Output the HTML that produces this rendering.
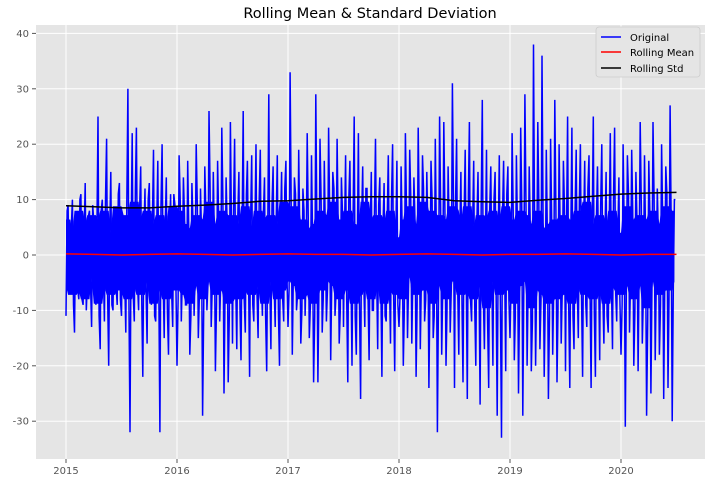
<!DOCTYPE html>
<html><head><meta charset="utf-8"><style>
body{margin:0;background:#fff;font-family:"Liberation Sans","DejaVu Sans",sans-serif}
svg text{font-family:"DejaVu Sans","Liberation Sans",sans-serif}
</style></head><body>
<svg id="c" width="712" height="483" xmlns="http://www.w3.org/2000/svg">
<rect x="36" y="25" width="669" height="434" fill="#e5e5e5"/>
<g id="grid"></g><g id="series"></g><g id="axes"></g>
<text x="370" y="18" text-anchor="middle" font-size="14.5" fill="#000">Rolling Mean &amp; Standard Deviation</text>
<g>
<rect x="596" y="27" width="104" height="50" rx="3" fill="#e5e5e5" stroke="#ccc" stroke-width="0.8"/>
<line x1="601" y1="37" x2="621" y2="37" stroke="#0000ff" stroke-width="1.5"/>
<text x="630" y="41" font-size="10" fill="#000">Original</text>
<line x1="601" y1="52" x2="621" y2="52" stroke="#ff0000" stroke-width="1.5"/>
<text x="630" y="56" font-size="10" fill="#000">Rolling Mean</text>
<line x1="601" y1="68" x2="621" y2="68" stroke="#000" stroke-width="1.5"/>
<text x="630" y="72" font-size="10" fill="#000">Rolling Std</text>
</g>
</svg>
<script>
const xTicks=[2015,2016,2017,2018,2019,2020];
const yTicks=[-30,-20,-10,0,10,20,30,40];
const original=[
-11,9,-6,10,-14,6,-8,11,-9,13,-5,8,-13,6,-9,25,-17,10,-12,21,-20,15,-10,8,-9,13,-11,7,-14,30,-32,22,-12,23,-10,16,-22,12,-16,13,-9,19,-12,17,-32,20,-15,14,-18,11,-13,9,
-20,18,-12,14,-9,17,-18,13,-11,20,-15,12,-29,16,-10,26,-13,15,-21,17,-12,23,-25,14,-23,24,-16,21,-17,15,-19,26,-14,17,-22,18,-12,20,-15,19,-11,14,-21,29,-17,16,-13,18,-20,15,-12,17,
-13,33,-18,14,-10,19,-16,12,-11,22,-15,18,-23,29,-23,21,-14,17,-12,23,-19,15,-11,21,-16,14,-13,18,-23,17,-20,25,-18,22,-26,16,-13,12,-19,15,-10,21,-17,14,-22,13,-12,18,-16,20,-21,17,
-13,16,-20,22,-15,19,-16,14,-22,23,-17,18,-12,15,-24,17,-15,21,-32,25,-18,24,-20,16,-14,31,-24,21,-18,15,-23,19,-26,24,-12,17,-20,15,-27,28,-17,19,-24,16,-20,15,-29,18,-33,17,-21,16,
-15,22,-19,18,-25,23,-29,29,-20,16,-21,38,-20,24,-17,36,-22,19,-26,21,-18,28,-23,20,-16,17,-21,25,-24,23,-17,19,-15,20,-22,17,-13,18,-24,25,-22,16,-19,20,-16,15,-14,22,-17,23,-12,14,
-18,20,-31,18,-14,19,-20,15,-21,24,-16,18,-29,17,-25,24,-19,12,-18,20,-26,16,-24,27,-30,10];
const midValues=[
8,-7,5,-9,4,-6,10,-8,3,-10,7,-5,9,-4,6,-11,8,-3,10,-7,5,-9,4,-6,11,-8,
6,-4,9,-10,3,-7,12,-5,8,-9,4,-6,10,-3,7,-11,5,-8,9,-4,6,-10,3,-7,11,-5,
-8,10,-4,7,-9,5,-11,6,-3,9,-7,4,-10,8,-5,12,-6,3,-9,7,-4,10,-8,5,-11,6,
9,-5,7,-10,4,-8,11,-3,6,-9,5,-7,10,-4,8,-11,3,-6,9,-5,7,-10,4,-8,12,-3,
-6,9,-4,11,-7,5,-10,8,-3,6,-9,4,-11,7,-5,10,-8,3,-6,9,-4,12,-7,5,-10,8,
5,-8,10,-4,7,-11,3,-9,6,-5,12,-7,4,-10,8,-3,9,-6,5,-11,7,-4,10,-8,3,-9,
-7,4,-10,8,-5,11,-3,6,-9,7,-4,12,-8,5,-6,10,-11,3,-7,9,-5,8,-10,4,-6,11,
10,-6,4,-9,7,-3,11,-8,5,-10,6,-4,9,-7,3,-12,8,-5,10,-6,4,-9,7,-3,11,-8,
-5,8,-11,4,-7,10,-3,9,-6,5,-12,7,-4,10,-8,6,-9,3,-11,7,-5,8,-10,4,-6,9,
6,-9,3,-11,8,-5,10,-7,4,-9,12,-6,5,-10,7,-3,9,-8,4,-11,6,-5,10,-7,3,-8,
-9,5,-7,11,-4,8,-10,6,-3,9,-7,4,-12,8,-5,10,-6,3,-9,7,-4,11,-8,5,-6,10];
const stdValues=[8.9,8.7,8.5,8.5,8.8,9.0,9.3,9.7,9.8,10.1,10.4,10.5,10.5,10.4,9.8,9.6,9.5,9.9,10.2,10.6,11.0,11.2,11.3];
const meanValues=[0.2,0.1,0.0,0.1,0.2,0.1,0.0,0.1,0.2,0.1,0.1,0.0,0.1,0.2,0.1,0.0,0.1,0.1,0.2,0.1,0.0,0.1,0.1];
const NS="http://www.w3.org/2000/svg";
const X=v=>66+(v-2015)*111;
const Y=v=>255-v*5.54;
const mk=(t,a,p)=>{const e=document.createElementNS(NS,t);for(const k in a)e.setAttribute(k,a[k]);p.appendChild(e);return e;};
const grid=document.getElementById('grid'),axes=document.getElementById('axes'),ser=document.getElementById('series');
xTicks.forEach(t=>{
 const l=mk('line',{x1:X(t),x2:X(t),y1:25,y2:459,stroke:'#fff','stroke-width':1},grid);
 
 
 const tk=mk('line',{x1:X(t),x2:X(t),y1:459,y2:463,stroke:'#555'},axes);
 
 
 const tx=mk('text',{x:X(t),y:474,'text-anchor':'middle','font-size':10,fill:'#555'},axes);
 tx.textContent=t;
 
 
});
yTicks.forEach(t=>{
 const l=mk('line',{x1:36,x2:705,y1:Y(t),y2:Y(t),stroke:'#fff','stroke-width':1},grid);
 
 
 const tk=mk('line',{x1:32,x2:36,y1:Y(t),y2:Y(t),stroke:'#555'},axes);
 
 
 const tx=mk('text',{x:29,y:Y(t)+3.5,'text-anchor':'end','font-size':10,fill:'#555'},axes);
 tx.textContent=t;
 
 
});
// dense band: envelope of mid-range values over short windows
const W=2, K=0.8, up=[], lo=[];
for(let i=0;i<midValues.length;i++){
 const win=midValues.slice(Math.max(0,i-W),Math.min(midValues.length,i+W+1));
 up.push([2015+i/52,Math.max(...win)*K]);
 lo.push([2015+i/52,Math.min(...win)*K]);
}
const bandPts=up.map(p=>X(p[0]).toFixed(1)+','+Y(p[1]).toFixed(1)).concat(lo.reverse().map(p=>X(p[0]).toFixed(1)+','+Y(p[1]).toFixed(1))).join(' ');
const band=mk('polygon',{points:bandPts,fill:'#0000ff',stroke:'none'},ser);


const combined=[];
original.forEach((v,i)=>{combined.push(v);if(i<midValues.length)combined.push(midValues[i]);});
const step=1/104;
const pts=(arr,st)=>arr.map((v,i)=>X(2015+i*st).toFixed(1)+','+Y(v).toFixed(1)).join(' ');
const o=mk('polyline',{points:pts(combined,step),fill:'none',stroke:'#0000ff','stroke-width':1.5},ser);


const m=mk('polyline',{points:pts(meanValues,0.25),fill:'none',stroke:'#ff0000','stroke-width':1.5},ser);


const s=mk('polyline',{points:pts(stdValues,0.25),fill:'none',stroke:'#000','stroke-width':1.5},ser);


</script>
</body></html>
